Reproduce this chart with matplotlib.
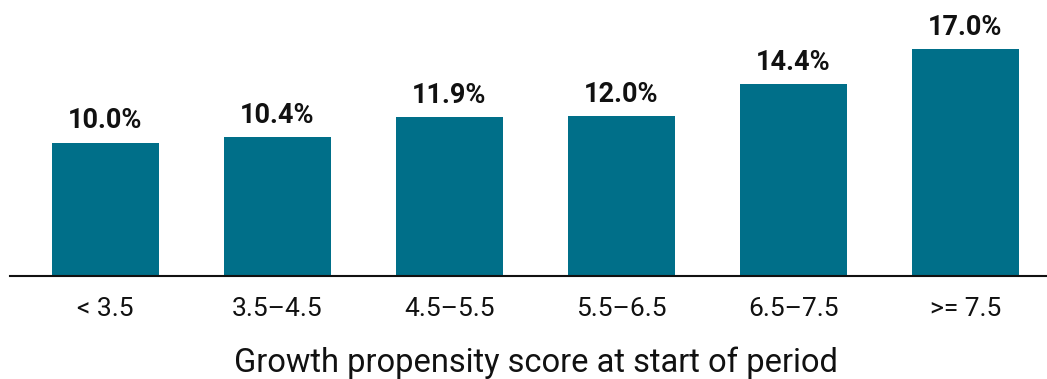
import matplotlib
matplotlib.use("Agg")
import matplotlib.pyplot as plt

categories = ["< 3.5", "3.5\u20134.5", "4.5\u20135.5", "5.5\u20136.5", "6.5\u20137.5", ">= 7.5"]
values = [10.0, 10.4, 11.9, 12.0, 14.4, 17.0]
value_labels = ["10.0%", "10.4%", "11.9%", "12.0%", "14.4%", "17.0%"]
xlabel = "Growth propensity score at start of period"

plt.rcParams['font.family'] = ['Roboto', 'DejaVu Sans']

fig = plt.figure(figsize=(10.47, 3.79), dpi=100)
ax = fig.add_axes([10/1047, 103/379, 1 - 10/1047, 276/379])

x = list(range(len(categories)))
bars = ax.bar(x, values, width=0.62, color="#006F89", zorder=2)
for xi, v, lab in zip(x, values, value_labels):
    ax.annotate(lab, (xi, v), xytext=(0, 6), textcoords="offset points",
                ha="center", va="bottom", fontsize=19.5, fontweight="bold", color="#111111")

ax.set_xlim(-0.555, 5.474)
ax.set_ylim(0, 20.7)
ax.set_xticks(x)
ax.set_xticklabels(categories, fontsize=19, color="#111111")
ax.tick_params(axis="x", length=0, pad=15)
ax.set_yticks([])
for s in ["top", "right", "left"]:
    ax.spines[s].set_visible(False)
ax.spines["bottom"].set_linewidth(1.5)
ax.spines["bottom"].set_color("#111111")
ax.set_xlabel(xlabel, fontsize=23.5, color="#111111")
ax.xaxis.set_label_coords(0.507, -0.255)

fig.savefig("out.png", dpi=100)
